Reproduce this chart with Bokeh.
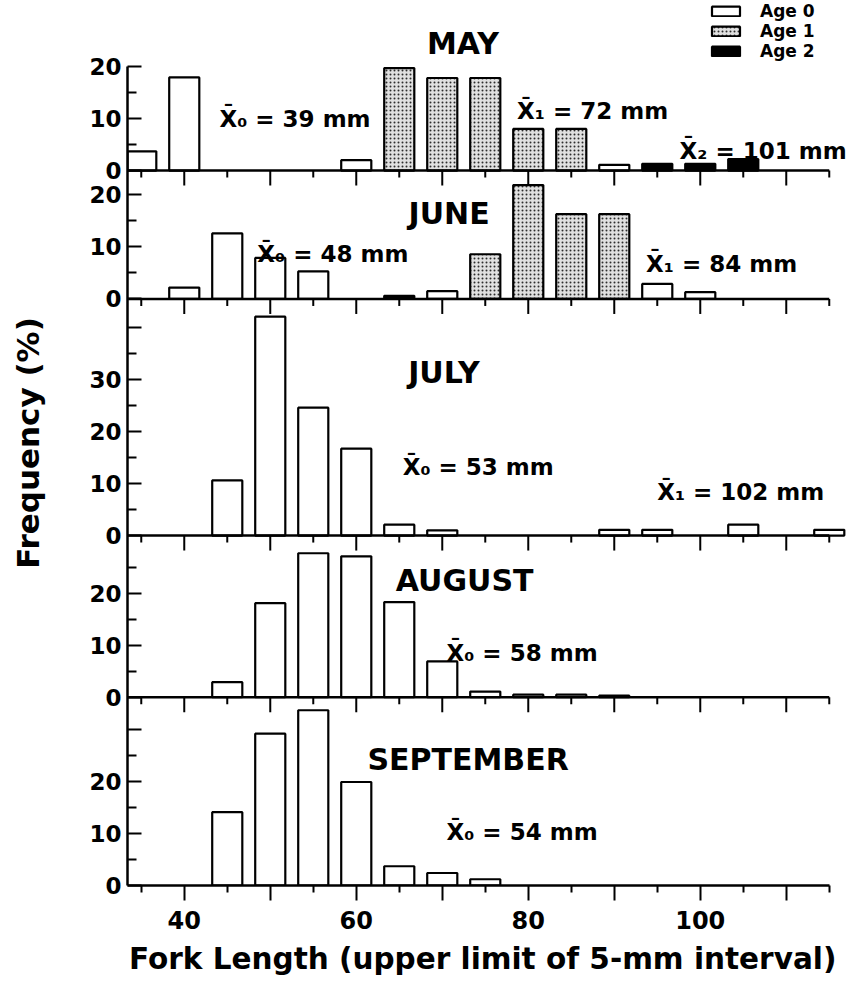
from bokeh.plotting import figure
from bokeh.models import ColumnDataSource, Range1d, FixedTicker, Legend, LegendItem
from bokeh.core.properties import value
from bokeh.embed import file_html
from bokeh.resources import INLINE

# ---------------- data ----------------
months = ["MAY", "JUNE", "JULY", "AUGUST", "SEPTEMBER"]

# fork length class (upper limit of 5-mm interval), frequency (%), age class
may_len = [35, 40, 60, 65, 70, 75, 80, 85, 90, 95, 100, 105]
may_pct = [3.7, 17.9, 2.0, 19.7, 17.8, 17.8, 8.0, 8.0, 1.1, 1.3, 1.3, 2.2]
may_age = [0, 0, 0, 1, 1, 1, 1, 1, 0, 2, 2, 2]

jun_len = [40, 45, 50, 55, 65, 70, 75, 80, 85, 90, 95, 100]
jun_pct = [2.2, 12.6, 7.9, 5.3, 0.6, 1.5, 8.6, 21.9, 16.3, 16.3, 2.9, 1.3]
jun_age = [0, 0, 0, 0, 2, 0, 1, 1, 1, 1, 0, 0]

jul_len = [45, 50, 55, 60, 65, 70, 90, 95, 105, 115]
jul_pct = [10.6, 42.1, 24.6, 16.7, 2.1, 1.0, 1.1, 1.1, 2.1, 1.1]
jul_age = [0, 0, 0, 0, 0, 0, 0, 0, 0, 0]

aug_len = [45, 50, 55, 60, 65, 70, 75, 80, 85, 90]
aug_pct = [2.9, 18.1, 27.7, 27.1, 18.3, 6.9, 1.1, 0.5, 0.5, 0.3]
aug_age = [0, 0, 0, 0, 0, 0, 0, 0, 0, 0]

sep_len = [45, 50, 55, 60, 65, 70, 75]
sep_pct = [14.1, 29.2, 33.7, 19.9, 3.7, 2.4, 1.2]
sep_age = [0, 0, 0, 0, 0, 0, 0]

age_labels = ["Age 0", "Age 1", "Age 2"]

# y-axis ticks of each panel (percent)
y_major = [[0, 10, 20], [0, 10, 20], [0, 10, 20, 30, 40], [0, 10, 20], [0, 10, 20, 30]]
y_major_lab = [["0", "10", "20"], ["0", "10", "20"], ["0", "10", "20", "30", ""],
               ["0", "10", "20"], ["0", "10", "20", ""]]
y_minor = [[5, 15], [5, 15], [5, 15, 25, 35], [5, 15, 25], [5, 15, 25]]
y_axis_top = 20.1

# x-axis ticks (mm)
x_major = [40, 50, 60, 70, 80, 90, 100, 110]
x_major_lab = ["40", "", "60", "", "80", "", "100", ""]
x_minor = [35, 45, 55, 65, 75, 85, 95, 105, 115]
x_axis_lo, x_axis_hi = 33.4, 115.0

# mean-length annotations
mean_text = ["X\u0304\u2080 = 39 mm", "X\u0304\u2081 = 72 mm", "X\u0304\u2082 = 101 mm",
             "X\u0304\u2080 = 48 mm", "X\u0304\u2081 = 84 mm",
             "X\u0304\u2080 = 53 mm", "X\u0304\u2081 = 102 mm",
             "X\u0304\u2080 = 58 mm", "X\u0304\u2080 = 54 mm"]
mean_panel = [0, 0, 0, 1, 1, 2, 2, 3, 4]

# ---------------- layout constants ----------------
panel_base = [137.5, 112.8, 67.3, 36.2, 0.0]   # stacked offset of each panel's zero line
px_per_unit = 5.2
frame_h = 885
month_pos = [(72.4, 24.4), (70.8, 16.4), (70.2, 31.4), (72.6, 22.4), (73.0, 24.3)]
mean_pos = [(44.1, 10.0), (78.7, 11.5), (97.6, 3.85), (48.5, 8.7), (93.7, 6.8),
            (65.4, 13.1), (95.0, 8.3), (70.5, 8.6), (70.5, 10.2)]
legend_row_center = [11, 31, 51]     # px from top
legend_left = 581                    # px from frame left
legend_font = 17

FONT_NAME = "DejaVu Sans"
FONT = value(FONT_NAME)

p = figure(width=858, height=986, output_backend="svg", toolbar_location=None,
           x_range=Range1d(33.4, 118.4), y_range=Range1d(0, 170.2),
           min_border_left=127, min_border_right=0, min_border_top=0, min_border_bottom=101)
p.outline_line_color = None
p.grid.visible = False
p.background_fill_color = "white"

# ---------------- bars ----------------
lens = [may_len, jun_len, jul_len, aug_len, sep_len]
pcts = [may_pct, jun_pct, jul_pct, aug_pct, sep_pct]
ages = [may_age, jun_age, jul_age, aug_age, sep_age]
src = {a: dict(x=[], bottom=[], top=[]) for a in (0, 1, 2)}
for base, L, P, A in zip(panel_base, lens, pcts, ages):
    for l, v, a in zip(L, P, A):
        src[a]["x"].append(l)
        src[a]["bottom"].append(base)
        src[a]["top"].append(base + v)

common = dict(x="x", bottom="bottom", top="top", width=3.5, line_color="black", line_width=2.2)
r0 = p.vbar(source=ColumnDataSource(src[0]), fill_color="white", **common)
r1 = p.vbar(source=ColumnDataSource(src[1]), fill_color="#e0e0e0", hatch_pattern="dot",
            hatch_color="black", hatch_scale=4, hatch_weight=1.0, hatch_alpha=0.8, **common)
r2 = p.vbar(source=ColumnDataSource(src[2]), fill_color="black", **common)

# ---------------- internal x axes (panel zero lines with ticks) ----------------
for base in panel_base[:-1]:
    p.segment(x0=[x_axis_lo], x1=[x_axis_hi], y0=[base], y1=[base], line_color="black", line_width=2.5)
    p.segment(x0=x_major, x1=x_major, y0=[base] * len(x_major),
              y1=[base - 15 / px_per_unit] * len(x_major), line_color="black", line_width=2)
    p.segment(x0=x_minor, x1=x_minor, y0=[base] * len(x_minor),
              y1=[base - 7 / px_per_unit] * len(x_minor), line_color="black", line_width=2)

# ---------------- text ----------------
p.text(x=[m[0] for m in month_pos], y=[b + m[1] for b, m in zip(panel_base, month_pos)], text=months,
       text_font=FONT, text_font_style="bold", text_font_size="30px", text_color="black",
       text_align="center", text_baseline="middle")
p.text(x=[m[0] for m in mean_pos], y=[panel_base[i] + m[1] for i, m in zip(mean_panel, mean_pos)],
       text=mean_text, text_font=FONT, text_font_style="bold", text_font_size="23px",
       text_color="black", text_align="left", text_baseline="alphabetic")

# ---------------- axes ----------------
ticks, minors, overrides = [], [], {}
for base, maj, lab, mn in zip(panel_base, y_major, y_major_lab, y_minor):
    for t, s in zip(maj, lab):
        v = round(base + t, 2)
        ticks.append(v)
        overrides[v] = s
    minors += [round(base + t, 2) for t in mn]

ya = p.yaxis[0]
ya.ticker = FixedTicker(ticks=ticks, minor_ticks=minors)
ya.major_label_overrides = overrides
ya.bounds = (0, panel_base[0] + y_axis_top)
ya.major_tick_in, ya.major_tick_out = 14, 0
ya.minor_tick_in, ya.minor_tick_out = 9, 0
ya.axis_line_width = 2.5
ya.major_tick_line_width = 2
ya.minor_tick_line_width = 2
ya.major_label_standoff = 6
ya.major_label_text_font = FONT_NAME
ya.major_label_text_font_style = "bold"
ya.major_label_text_font_size = "23px"
ya.major_label_text_color = "black"
ya.axis_label = "Frequency (%)"
ya.axis_label_text_font = FONT_NAME
ya.axis_label_text_font_style = "bold"
ya.axis_label_text_font_size = "31px"
ya.axis_label_text_color = "black"
ya.axis_label_standoff = 40

xa = p.xaxis[0]
xa.ticker = FixedTicker(ticks=x_major, minor_ticks=x_minor)
xa.major_label_overrides = {t: s for t, s in zip(x_major, x_major_lab)}
xa.bounds = (x_axis_lo, x_axis_hi)
xa.major_tick_in, xa.major_tick_out = 0, 15
xa.minor_tick_in, xa.minor_tick_out = 0, 7
xa.axis_line_width = 2.5
xa.major_tick_line_width = 2
xa.minor_tick_line_width = 2
xa.major_label_standoff = 10
xa.major_label_text_font = FONT_NAME
xa.major_label_text_font_style = "bold"
xa.major_label_text_font_size = "24px"
xa.major_label_text_color = "black"
xa.axis_label = "Fork Length (upper limit of 5-mm interval)\u00a0\u00a0"
xa.axis_label_text_font = FONT_NAME
xa.axis_label_text_font_style = "bold"
xa.axis_label_text_font_size = "29.5px"
xa.axis_label_text_color = "black"
xa.axis_label_standoff = 10

# ---------------- legend (one single-item legend per row, for exact row spacing) ----------------
item_h = 1.17 * legend_font
for lab, r, cy in zip(age_labels, [r0, r1, r2], legend_row_center):
    lg = Legend(items=[LegendItem(label=lab, renderers=[r])],
                location=(legend_left, frame_h - (cy + item_h / 2)),
                padding=0, margin=0, spacing=0,
                glyph_width=35, glyph_height=12, label_height=12, label_standoff=17,
                label_text_font=FONT_NAME, label_text_font_style="bold",
                label_text_font_size=f"{legend_font}px", label_text_color="black",
                background_fill_alpha=0, border_line_color=None)
    p.add_layout(lg)

open("out.html", "w").write(file_html(p, INLINE))
